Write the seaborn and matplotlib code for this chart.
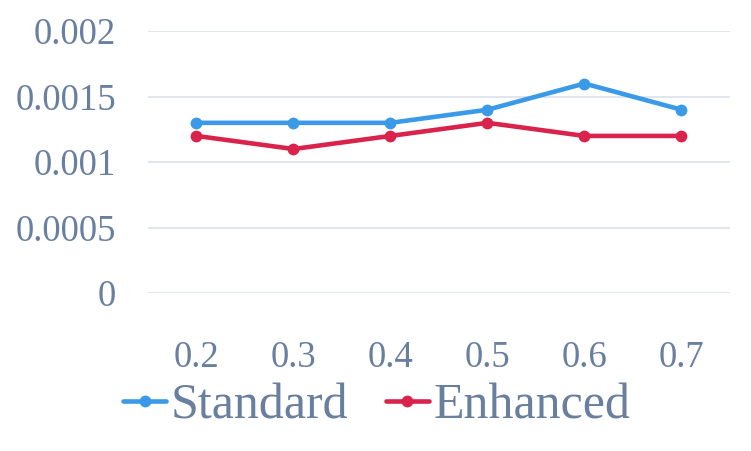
import pandas as pd
import seaborn as sns
from matplotlib import pyplot as plt

categories = ['0.2', '0.3', '0.4', '0.5', '0.6', '0.7']
standard = [0.0013, 0.0013, 0.0013, 0.0014, 0.0016, 0.0014]
enhanced = [0.0012, 0.0011, 0.0012, 0.0013, 0.0012, 0.0012]
y_ticks = [0, 0.0005, 0.001, 0.0015, 0.002]
y_labels = ['0', '0.0005', '0.001', '0.0015', '0.002']

if __name__ == '__main__':
    df = pd.DataFrame({
        'x': categories * 2,
        'y': standard + enhanced,
        'series': ['Standard'] * len(categories) + ['Enhanced'] * len(categories),
    })

    sns.set_theme(style='white')
    plt.rcParams['font.family'] = 'serif'
    plt.rcParams['font.serif'] = ['Liberation Serif', 'Times New Roman', 'DejaVu Serif']
    text_color = '#687FA0'

    fig = plt.figure(figsize=(7.51, 4.51), dpi=100)
    ax = fig.add_axes([0.197, 0.350, 0.775, 0.581])

    sns.lineplot(data=df, x='x', y='y', hue='series', sort=False,
                 palette={'Standard': '#3A9AE8', 'Enhanced': '#D9234C'},
                 marker='o', markersize=8.5, markeredgewidth=0,
                 linewidth=3.3, ax=ax)

    ax.set_xlim(-0.5, len(categories) - 0.5)
    ax.set_ylim(0, 0.002)
    ax.set_yticks(y_ticks)
    ax.set_yticklabels(y_labels)
    ax.yaxis.grid(True, color='#D9DEE8', linewidth=1.1)
    ax.xaxis.grid(False)
    ax.set_axisbelow(True)
    for s in ax.spines.values():
        s.set_visible(False)
    ax.tick_params(axis='y', length=0, pad=23, labelsize=26.5, labelcolor=text_color)
    ax.tick_params(axis='x', length=0, pad=34, labelsize=26.5, labelcolor=text_color)
    ax.set_xlabel('')
    ax.set_ylabel('')

    handles, labels = ax.get_legend_handles_labels()
    leg = ax.legend(handles, labels, loc='center', bbox_to_anchor=(0.502, 0.100),
                    bbox_transform=fig.transFigure, ncol=2, frameon=False,
                    fontsize=36, handlelength=0.85, handletextpad=0.1,
                    columnspacing=0.75, borderpad=0)
    for t in leg.get_texts():
        t.set_color(text_color)

    fig.savefig('out.png', dpi=100)
